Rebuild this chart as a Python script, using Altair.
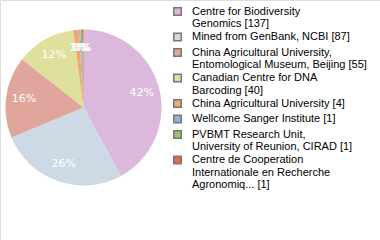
import altair as alt
import pandas as pd

names = [
    "Centre for Biodiversity|Genomics",
    "Mined from GenBank, NCBI",
    "China Agricultural University,|Entomological Museum, Beijing",
    "Canadian Centre for DNA|Barcoding",
    "China Agricultural University",
    "Wellcome Sanger Institute",
    "PVBMT Research Unit,|University of Reunion, CIRAD",
    "Centre de Cooperation|Internationale en Recherche|Agronomiq...",
]
counts = [137, 87, 55, 40, 4, 1, 1, 1]
colors = ["#dcb9dc", "#cdd9e5", "#e0a69c", "#dee09b", "#f1aa6e", "#8fb3d9", "#98c36b", "#de6b50"]

total = sum(counts)
labels = [f"{n} [{c}]" for n, c in zip(names, counts)]
df = pd.DataFrame({
    "label": labels,
    "count": counts,
    "idx": list(range(len(counts))),
    "pct": [f"{int(c * 100 // total)}%" for c in counts],
})

cx, cy, r = 83.5, 107.5, 78

arc = alt.Chart(df).mark_arc(outerRadius=r, stroke=None).encode(
    theta=alt.Theta("count:Q", stack=True),
    order=alt.Order("idx:Q"),
    color=alt.Color(
        "label:N",
        scale=alt.Scale(domain=labels, range=colors),
        legend=alt.Legend(
            title=None,
            orient="none",
            legendX=172,
            legendY=6,
            symbolType="square",
            symbolSize=56,
            symbolStrokeColor="#777777",
            symbolStrokeWidth=1.5,
            labelFont="Liberation Sans",
            labelFontSize=11,
            labelColor="#000000",
            labelLimit=400,
            labelOffset=9,
            rowPadding=0.5,
            labelExpr="split(datum.label, '|')",
        ),
    ),
    x=alt.value(cx),
    y=alt.value(cy),
)

text = alt.Chart(df).mark_text(
    radius=60, fill="white", font="DejaVu Sans", fontSize=11
).encode(
    theta=alt.Theta("count:Q", stack=True),
    order=alt.Order("idx:Q"),
    text="pct:N",
    x=alt.value(cx),
    y=alt.value(cy),
)

chart = alt.layer(arc, text).properties(
    width=380, height=240, autosize=alt.AutoSizeParams(type="none"), padding=0
).configure_view(stroke=None).configure(
    style={"guide-label": {"lineHeight": 12.5}}
)

chart.save("out.html", embed_options={"renderer": "svg", "actions": False})
